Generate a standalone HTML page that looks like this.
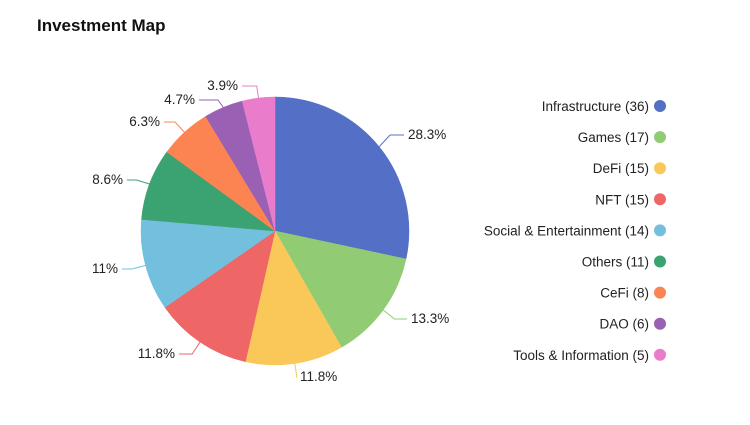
<!DOCTYPE html><html><head><style>
body{margin:0;background:#fff;width:750px;height:420px;overflow:hidden;font-family:"Liberation Sans",sans-serif}
</style></head><body>
<svg width="750" height="420" xmlns="http://www.w3.org/2000/svg" id="s">
<rect x="0" y="0" width="750" height="420" fill="#fff"/>
<text x="37" y="31" font-size="17" font-weight="bold" fill="#111">Investment Map</text>
</svg>
<script>
const s=document.getElementById('s'),NS='http://www.w3.org/2000/svg';
const cx=275,cy=231,R=134;
const d=[["Infrastructure",36,"#5470c6","28.3%",408,139,"start"],["Games",17,"#91cc75","13.3%",411,323,"start"],["DeFi",15,"#fac858","11.8%",300,381,"start"],["NFT",15,"#ee6666","11.8%",175,358,"end"],["Social & Entertainment",14,"#73c0de","11%",118,273,"end"],["Others",11,"#3ba272","8.6%",123,184,"end"],["CeFi",8,"#fc8452","6.3%",160,126,"end"],["DAO",6,"#9a60b4","4.7%",195,104,"end"],["Tools & Information",5,"#ea7ccc","3.9%",238,90,"end"]];
function el(t,a,txt){const e=document.createElementNS(NS,t);for(const k in a)e.setAttribute(k,a[k]);if(txt)e.textContent=txt;s.appendChild(e);return e;}
function pt(a,r){const t=(a-90)*Math.PI/180;return[cx+r*Math.cos(t),cy+r*Math.sin(t)];}
let tot=127,c=0;
d.forEach((v,i)=>{const a0=c/tot*360,a1=(c+v[1])/tot*360;c+=v[1];
const p0=pt(a0,R),p1=pt(a1,R);
el('path',{d:`M${cx},${cy}L${p0[0]},${p0[1]}A${R},${R} 0 ${a1-a0>180?1:0} 1 ${p1[0]},${p1[1]}Z`,fill:v[2],stroke:v[2],'stroke-width':0.5});
const m=(a0+a1)/2,e=pt(m,R),o=pt(m,R+14);const ly=v[5]-4;
const lx=v[6]=="start"?v[4]-4:v[4]+4;
el('polyline',{points:`${e[0]},${e[1]} ${o[0]},${ly} ${lx},${ly}`,fill:'none',stroke:v[2],'stroke-width':1});
el('text',{x:v[4],y:v[5],'font-size':13.5,fill:'#222','text-anchor':v[6]},v[3]);
const yy=106+i*31.1;
el('text',{x:649,y:yy+5,'font-size':13.5,fill:'#222','text-anchor':'end'},`${v[0]} (${v[1]})`);
el('circle',{cx:660,cy:yy,r:6,fill:v[2]});
});
</script>
</body></html>
